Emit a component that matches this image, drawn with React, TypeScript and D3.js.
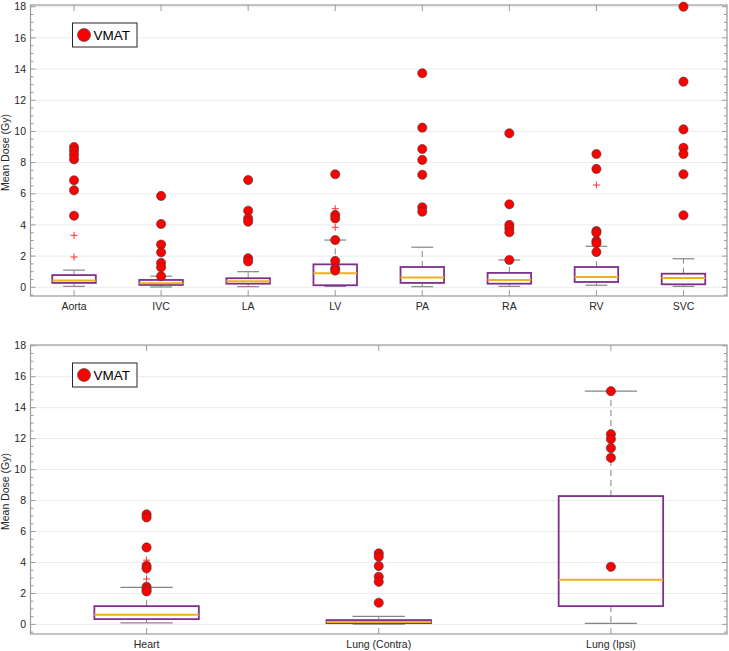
import React from 'react';
import * as d3 from 'd3';

const topCategories = ['Aorta', 'IVC', 'LA', 'LV', 'PA', 'RA', 'RV', 'SVC'];
const topQ1 = [0.28, 0.15, 0.23, 0.13, 0.28, 0.23, 0.34, 0.19];
const topMedian = [0.43, 0.26, 0.38, 0.9, 0.62, 0.47, 0.66, 0.6];
const topQ3 = [0.78, 0.47, 0.58, 1.47, 1.3, 0.92, 1.3, 0.87];
const topWhiskerLow = [0.06, 0.02, 0.04, 0.06, 0.04, 0.06, 0.13, 0.06];
const topWhiskerHigh = [1.1, 0.71, 1.0, 3.03, 2.57, 1.75, 2.63, 1.83];
const topOutliers = [[3.33, 1.94], [], [], [5.04, 3.85], [], [], [6.56], []];
const topVmat = [
  [9.0, 8.76, 8.49, 8.21, 6.86, 6.22, 4.59],
  [5.86, 4.06, 2.74, 2.24, 1.56, 1.28, 0.71],
  [6.88, 4.91, 4.42, 4.21, 1.86, 1.66],
  [7.25, 4.64, 4.42, 3.03, 1.69, 1.22, 1.07],
  [13.73, 10.24, 8.87, 8.17, 7.22, 5.13, 4.85],
  [9.88, 5.32, 4.0, 3.78, 3.53, 1.75],
  [8.55, 7.59, 3.61, 3.5, 2.97, 2.82, 2.26],
  [18.0, 13.19, 10.13, 8.95, 8.55, 7.25, 4.62],
];

const bottomCategories = ['Heart', 'Lung (Contra)', 'Lung (Ipsi)'];
const bottomQ1 = [0.34, 0.08, 1.18];
const bottomMedian = [0.62, 0.15, 2.88];
const bottomQ3 = [1.18, 0.28, 8.29];
const bottomWhiskerLow = [0.1, 0.02, 0.06];
const bottomWhiskerHigh = [2.39, 0.52, 15.07];
const bottomOutliers = [[4.15, 3.46, 2.93], [], []];
const bottomVmat = [
  [7.11, 6.91, 4.97, 3.79, 3.62, 2.43, 2.26, 2.13],
  [4.59, 4.37, 3.77, 3.08, 2.75, 1.4],
  [15.07, 12.29, 11.97, 11.39, 10.76, 3.72],
];

const yTicks = [0, 2, 4, 6, 8, 10, 12, 14, 16, 18];
const legendLabel = 'VMAT';
const yLabel = 'Mean Dose (Gy)';

const FONT = '"Liberation Sans", Arial, Helvetica, sans-serif';
const BOX_COLOR = '#7E2F8E';
const MEDIAN_COLOR = '#EDB120';
const WHISKER_COLOR = '#858585';
const AXIS_COLOR = '#9a9a9a';
const GRID_COLOR = '#ebebeb';

type PanelProps = {
  top: number;
  bottom: number;
  left: number;
  right: number;
  domain: [number, number];
  categories: string[];
  q1: number[];
  median: number[];
  q3: number[];
  wLow: number[];
  wHigh: number[];
  outliers: number[][];
  vmat: number[][];
  boxFrac: number;
};

function Panel(p: PanelProps) {
  const y = d3.scaleLinear().domain(p.domain).range([p.bottom, p.top]);
  const x = d3.scalePoint<string>().domain(p.categories).range([p.left, p.right]).padding(0.5);
  const step = x.step();
  const bw = step * p.boxFrac;
  const cw = bw / 2;
  const minorTicks = d3.range(-0.5, 18.01, 0.5).filter((v) => v >= p.domain[0] && v <= p.domain[1]);
  const midY = (p.top + p.bottom) / 2 + 2;
  return (
    <g>
      {yTicks.map((t) => (
        <line key={'g' + t} x1={p.left} x2={p.right} y1={y(t)} y2={y(t)} stroke={GRID_COLOR} strokeWidth={1} />
      ))}
      {p.categories.map((c, i) => {
        const cx = x(c)!;
        return (
          <g key={'b' + c}>
            <line x1={cx} x2={cx} y1={y(p.q3[i])} y2={y(p.wHigh[i])} stroke={WHISKER_COLOR} strokeWidth={1} strokeDasharray="6,4" />
            <line x1={cx} x2={cx} y1={y(p.q1[i])} y2={y(p.wLow[i])} stroke={WHISKER_COLOR} strokeWidth={1} strokeDasharray="6,4" />
            <line x1={cx - cw / 2} x2={cx + cw / 2} y1={y(p.wHigh[i])} y2={y(p.wHigh[i])} stroke={WHISKER_COLOR} strokeWidth={1.2} />
            <line x1={cx - cw / 2} x2={cx + cw / 2} y1={y(p.wLow[i])} y2={y(p.wLow[i])} stroke={WHISKER_COLOR} strokeWidth={1.2} />
            <rect x={cx - bw / 2} y={y(p.q3[i])} width={bw} height={y(p.q1[i]) - y(p.q3[i])} fill="none" stroke={BOX_COLOR} strokeWidth={1.8} />
            <line x1={cx - bw / 2} x2={cx + bw / 2} y1={y(p.median[i])} y2={y(p.median[i])} stroke={MEDIAN_COLOR} strokeWidth={2} />
            {p.outliers[i].map((v, j) => (
              <g key={'o' + j} stroke="#ff3030" strokeWidth={1}>
                <line x1={cx - 3.5} x2={cx + 3.5} y1={y(v)} y2={y(v)} />
                <line x1={cx} x2={cx} y1={y(v) - 3.5} y2={y(v) + 3.5} />
              </g>
            ))}
          </g>
        );
      })}
      {/* axes frame */}
      <rect x={p.left} y={p.top} width={p.right - p.left} height={p.bottom - p.top} fill="none" stroke={AXIS_COLOR} strokeWidth={1.2} />
      {minorTicks.map((v) => {
        const major = Math.abs(v - Math.round(v / 2) * 2) < 1e-6;
        const len = major ? 5 : 3;
        return (
          <g key={'t' + v} stroke={AXIS_COLOR} strokeWidth={1}>
            <line x1={p.left} x2={p.left + len} y1={y(v)} y2={y(v)} />
            <line x1={p.right} x2={p.right - len} y1={y(v)} y2={y(v)} />
          </g>
        );
      })}
      {p.categories.map((c) => (
        <g key={'xt' + c} stroke={AXIS_COLOR} strokeWidth={1}>
          <line x1={x(c)} x2={x(c)} y1={p.bottom} y2={p.bottom - 6} />
          <line x1={x(c)} x2={x(c)} y1={p.top} y2={p.top + 6} />
        </g>
      ))}
      {yTicks.map((t) => (
        <text key={'yl' + t} x={26} y={y(t)} dy="0.35em" textAnchor="end" fontSize={10.5} fill="#262626" fontFamily={FONT}>
          {t}
        </text>
      ))}
      {p.categories.map((c) => (
        <text key={'xl' + c} x={x(c)} y={p.bottom + 14} textAnchor="middle" fontSize={10.5} fill="#262626" fontFamily={FONT}>
          {c}
        </text>
      ))}
      <text transform={`translate(9,${midY}) rotate(-90)`} textAnchor="middle" fontSize={10.5} fill="#262626" fontFamily={FONT}>
        {yLabel}
      </text>
      {/* VMAT scatter */}
      {p.categories.map((c, i) =>
        p.vmat[i].map((v, j) => (
          <circle key={'v' + c + j} cx={x(c)} cy={y(v)} r={4.6} fill="#ff0000" stroke="#3a3a3a" strokeWidth={0.6} />
        ))
      )}
      {/* legend */}
      <g>
        <rect x={72.5} y={p.top + 18} width={64.5} height={24} fill="#fff" stroke="#262626" strokeWidth={1} />
        <circle cx={84} cy={p.top + 30} r={6.5} fill="#ff0000" stroke="#3a3a3a" strokeWidth={0.6} />
        <text x={93.5} y={p.top + 30} dy="0.36em" fontSize={13.5} fill="#000" fontFamily={FONT}>
          {legendLabel}
        </text>
      </g>
    </g>
  );
}

export default function App() {
  return (
    <svg width={729} height={651} style={{ position: 'absolute', left: 0, top: 0, background: '#fff' }}>
      <rect x={0} y={0} width={729} height={651} fill="#fff" />
      <Panel
        top={5}
        bottom={296}
        left={30.5}
        right={727}
        domain={[-0.56, 18.11]}
        categories={topCategories}
        q1={topQ1}
        median={topMedian}
        q3={topQ3}
        wLow={topWhiskerLow}
        wHigh={topWhiskerHigh}
        outliers={topOutliers}
        vmat={topVmat}
        boxFrac={0.5}
      />
      <Panel
        top={345}
        bottom={634}
        left={30.5}
        right={727}
        domain={[-0.62, 18.05]}
        categories={bottomCategories}
        q1={bottomQ1}
        median={bottomMedian}
        q3={bottomQ3}
        wLow={bottomWhiskerLow}
        wHigh={bottomWhiskerHigh}
        outliers={bottomOutliers}
        vmat={bottomVmat}
        boxFrac={0.45}
      />
    </svg>
  );
}
